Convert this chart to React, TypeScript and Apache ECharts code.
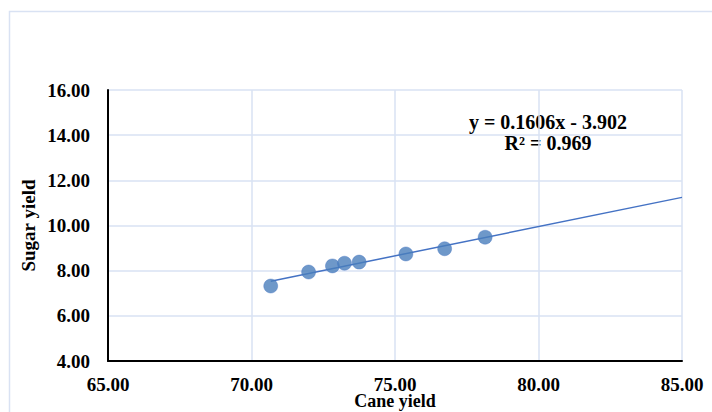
import React, { useEffect, useRef } from "react";
import * as echarts from "echarts";

const caneYield = [70.67, 71.99, 72.82, 73.24, 73.75, 75.38, 76.73, 78.14];
const sugarYield = [7.32, 7.94, 8.21, 8.33, 8.38, 8.74, 8.97, 9.48];
const equationLabel = "y = 0.1606x - 3.902";
const r2Label = "R² = 0.969";
const xAxisTitle = "Cane yield";
const yAxisTitle = "Sugar yield";
const trendEndX = 85;

function fitLine(xs: number[], ys: number[]) {
  const n = xs.length;
  const mx = xs.reduce((a, b) => a + b, 0) / n;
  const my = ys.reduce((a, b) => a + b, 0) / n;
  let sxy = 0, sxx = 0;
  for (let i = 0; i < n; i++) {
    sxy += (xs[i] - mx) * (ys[i] - my);
    sxx += (xs[i] - mx) * (xs[i] - mx);
  }
  const slope = sxy / sxx;
  return { slope, intercept: my - slope * mx };
}

export default function App() {
  const ref = useRef<HTMLDivElement>(null);
  useEffect(() => {
    if (!ref.current) return;
    const chart = echarts.init(ref.current, null, { renderer: "svg" });
    const { slope, intercept } = fitLine(caneYield, sugarYield);
    const x0 = Math.min(...caneYield);
    const trend = [
      [x0, slope * x0 + intercept],
      [trendEndX, slope * trendEndX + intercept],
    ];
    const font = "'Liberation Serif', 'Times New Roman', serif";
    const gridColor = "#d9e2f3";
    chart.setOption({
      animation: false,
      backgroundColor: "#ffffff",
      textStyle: { fontFamily: font },
      grid: {
        left: 108,
        top: 90,
        right: 30,
        bottom: 51,
        containLabel: false,
        outerBoundsMode: "none",
      },
      graphic: [
        {
          type: "rect",
          shape: { x: 9.5, y: 11.5, width: 740, height: 440 },
          style: { fill: "none", stroke: gridColor, lineWidth: 1.5 },
          silent: true,
        },
        {
          type: "text",
          x: 548,
          y: 122,
          style: {
            text: equationLabel,
            font: `bold 20px ${font}`,
            fill: "#000",
            align: "center",
            verticalAlign: "middle",
          },
        },
        {
          type: "text",
          x: 548,
          y: 143,
          style: {
            text: r2Label,
            font: `bold 20px ${font}`,
            fill: "#000",
            align: "center",
            verticalAlign: "middle",
          },
        },
      ],
      xAxis: {
        type: "value",
        min: 65,
        max: 85,
        interval: 5,
        name: xAxisTitle,
        nameLocation: "middle",
        nameGap: 32,
        nameMoveOverlap: false,
        nameTextStyle: {
          fontFamily: font,
          fontWeight: "bold",
          fontSize: 18,
          lineHeight: 16,
          color: "#000",
        },
        axisLine: { show: true, onZero: false, lineStyle: { color: "#000", width: 2 } },
        axisTick: { show: false },
        axisLabel: {
          fontFamily: font,
          fontWeight: "bold",
          fontSize: 19,
          lineHeight: 16,
          color: "#000",
          margin: 15,
          formatter: (v: number) => v.toFixed(2),
        },
        splitLine: { show: true, lineStyle: { color: gridColor, width: 1.5 } },
      },
      yAxis: {
        type: "value",
        min: 4,
        max: 16,
        interval: 2,
        name: yAxisTitle,
        nameLocation: "middle",
        nameGap: 70,
        nameMoveOverlap: false,
        nameTextStyle: { fontFamily: font, fontWeight: "bold", fontSize: 19, color: "#000" },
        axisLine: { show: true, onZero: false, lineStyle: { color: "#000", width: 2 } },
        axisTick: { show: false },
        axisLabel: {
          fontFamily: font,
          fontWeight: "bold",
          fontSize: 19,
          color: "#000",
          margin: 18,
          formatter: (v: number) => v.toFixed(2),
        },
        splitLine: { show: true, lineStyle: { color: gridColor, width: 1.5 } },
      },
      series: [
        {
          type: "line",
          data: trend,
          symbol: "none",
          lineStyle: { color: "#4472c4", width: 1.5 },
          z: 2,
          silent: true,
        },
        {
          type: "scatter",
          data: caneYield.map((x, i) => [x, sugarYield[i]]),
          symbolSize: 14,
          itemStyle: { color: "#4a7ebb", borderColor: "#4472c4", borderWidth: 0.5 },
          z: 3,
        },
      ],
    });
    return () => chart.dispose();
  }, []);
  return (
    <div
      ref={ref}
      style={{ position: "absolute", left: 0, top: 0, width: 712, height: 412 }}
    />
  );
}
